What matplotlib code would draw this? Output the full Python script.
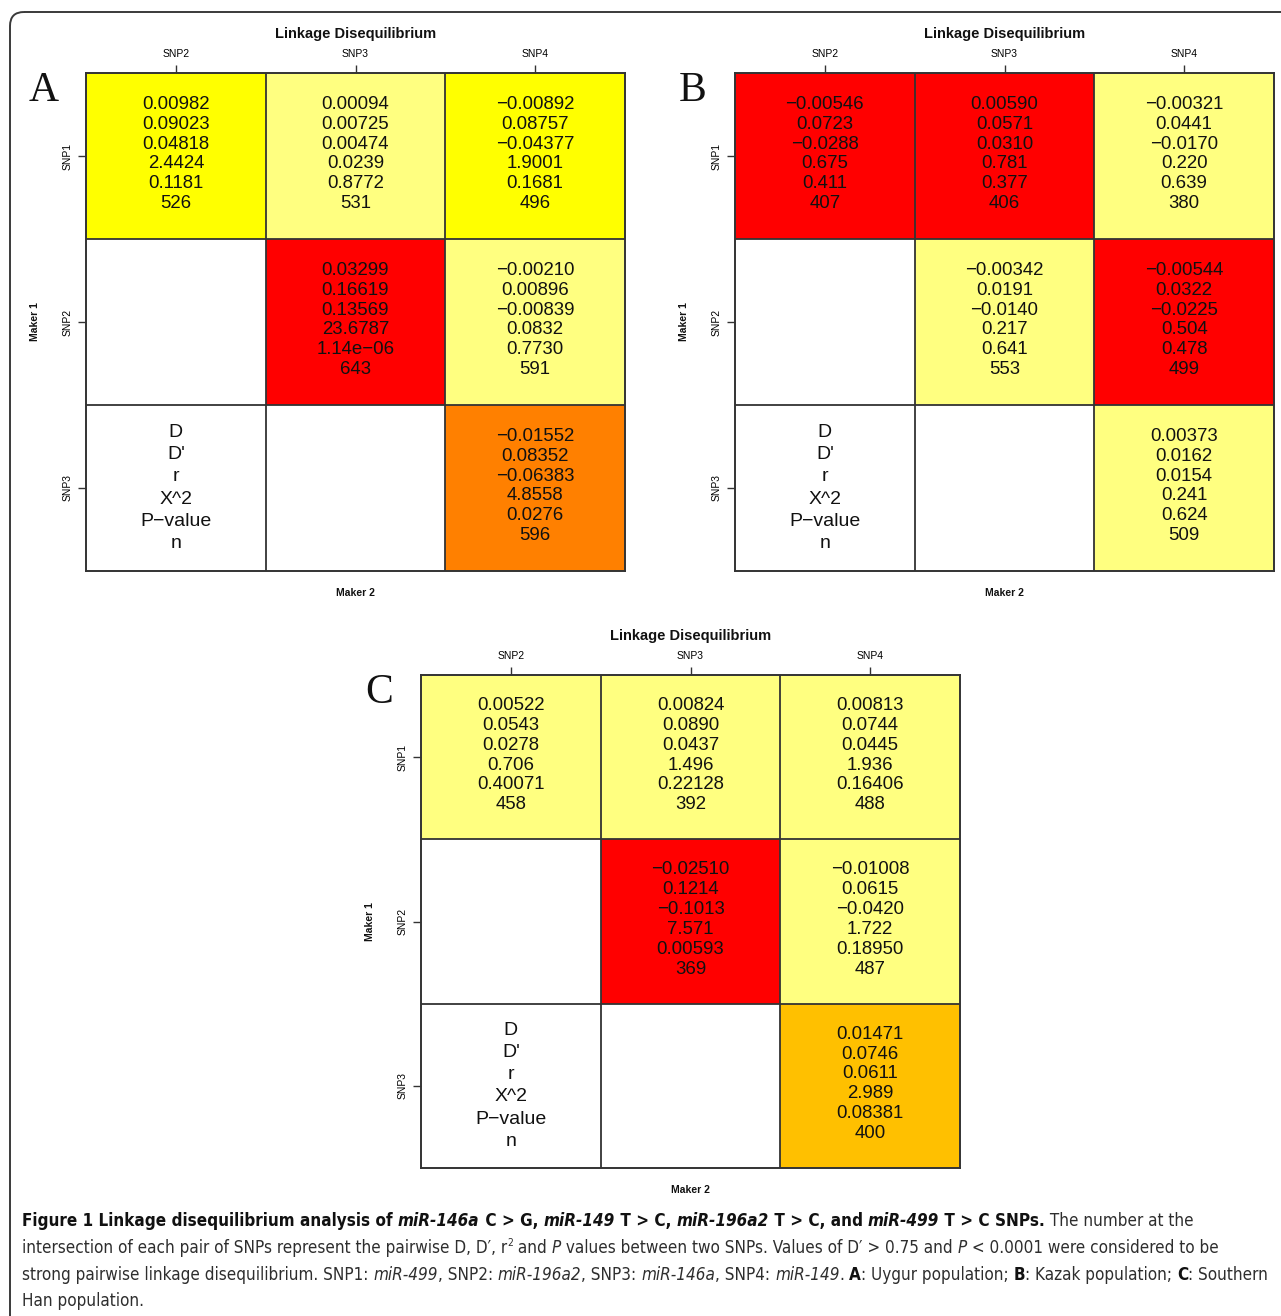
import numpy as np
import matplotlib
matplotlib.use("Agg")
import matplotlib.pyplot as plt
from matplotlib import font_manager as fm
from matplotlib.colors import ListedColormap, BoundaryNorm
from matplotlib.patches import FancyBboxPatch

# pixel size of the whole figure
W, H = 1281, 1316

# caption font: a narrow sans if the machine has one
narrow = [f for f in fm.fontManager.ttflist
          if ('Narrow' in f.name or 'Condensed' in f.name
              or f.stretch in ('condensed', 'semi-condensed'))
          and 'Serif' not in f.name and 'Mono' not in f.name]
cap_font = narrow[0].name if narrow else 'Liberation Sans'
cap_stretch = narrow[0].stretch if narrow else 'normal'
num_font = 'Liberation Sans'

# cell order: SNP1-SNP2, SNP1-SNP3, SNP1-SNP4, SNP2-SNP3, SNP2-SNP4, SNP3-SNP4
pairs = [(0, 0), (0, 1), (0, 2), (1, 1), (1, 2), (2, 2)]
col_labels = ['SNP2', 'SNP3', 'SNP4']
row_labels = ['SNP1', 'SNP2', 'SNP3']
key_labels = ['D', "D'", 'r', 'X^2', 'P\u2212value', 'n']

# A: Uygur
A_D = ['0.00982', '0.00094', '\u22120.00892', '0.03299', '\u22120.00210', '\u22120.01552']
A_Dp = ['0.09023', '0.00725', '0.08757', '0.16619', '0.00896', '0.08352']
A_r = ['0.04818', '0.00474', '\u22120.04377', '0.13569', '\u22120.00839', '\u22120.06383']
A_X2 = ['2.4424', '0.0239', '1.9001', '23.6787', '0.0832', '4.8558']
A_P = ['0.1181', '0.8772', '0.1681', '1.14e\u221206', '0.7730', '0.0276']
A_n = ['526', '531', '496', '643', '591', '596']
A_level = [1, 0, 1, 2, 0, 3]

# B: Kazak
B_D = ['\u22120.00546', '0.00590', '\u22120.00321', '\u22120.00342', '\u22120.00544', '0.00373']
B_Dp = ['0.0723', '0.0571', '0.0441', '0.0191', '0.0322', '0.0162']
B_r = ['\u22120.0288', '0.0310', '\u22120.0170', '\u22120.0140', '\u22120.0225', '0.0154']
B_X2 = ['0.675', '0.781', '0.220', '0.217', '0.504', '0.241']
B_P = ['0.411', '0.377', '0.639', '0.641', '0.478', '0.624']
B_n = ['407', '406', '380', '553', '499', '509']
B_level = [2, 2, 0, 0, 2, 0]

# C: Southern Han
C_D = ['0.00522', '0.00824', '0.00813', '\u22120.02510', '\u22120.01008', '0.01471']
C_Dp = ['0.0543', '0.0890', '0.0744', '0.1214', '0.0615', '0.0746']
C_r = ['0.0278', '0.0437', '0.0445', '\u22120.1013', '\u22120.0420', '0.0611']
C_X2 = ['0.706', '1.496', '1.936', '7.571', '1.722', '2.989']
C_P = ['0.40071', '0.22128', '0.16406', '0.00593', '0.18950', '0.08381']
C_n = ['458', '392', '488', '369', '487', '400']
C_level = [0, 0, 0, 2, 0, 4]

level_colors = ['#ffff80', '#ffff00', '#ff0000', '#ff8000', '#ffc000']
cmap = ListedColormap(level_colors)
norm = BoundaryNorm(np.arange(-0.5, len(level_colors)), cmap.N)

fig = plt.figure(figsize=(W / 100, H / 100), dpi=100)
ax0 = fig.add_axes([0, 0, 1, 1])
ax0.set_xlim(0, W)
ax0.set_ylim(H, 0)
ax0.axis('off')

frame = FancyBboxPatch((10, 12), W + 40, H + 40, boxstyle='round,pad=0,rounding_size=14',
                       fc='none', ec='#3a3a3a', lw=1.4)
ax0.add_patch(frame)


def draw_panel(l, t, r, b, letter, D, Dp, rr, X2, P, n, level):
    ax = fig.add_axes([l / W, 1 - b / H, (r - l) / W, (b - t) / H])
    grid = np.ma.masked_all((3, 3))
    for k, (i, j) in enumerate(pairs):
        grid[i, j] = level[k]
    ax.pcolormesh(np.arange(4), np.arange(4), grid, cmap=cmap, norm=norm)
    for k in (1, 2):
        ax.axvline(k, color='#333333', lw=1.3)
        ax.axhline(k, color='#333333', lw=1.3)
    for k, (i, j) in enumerate(pairs):
        txt = '\n'.join([D[k], Dp[k], rr[k], X2[k], P[k], n[k]])
        ax.text(j + 0.5, i + 0.5 - 0.012, txt, ha='center', va='center', fontsize=13.4,
                family=num_font, color='#111111', linespacing=1.22)
    ax.text(0.5, 2.5, '\n'.join(key_labels), ha='center', va='center', fontsize=14,
            family=num_font, color='#111111', linespacing=1.4)
    ax.set_xlim(0, 3)
    ax.set_ylim(3, 0)
    ax.xaxis.tick_top()
    ax.set_xticks([0.5, 1.5, 2.5], col_labels, fontsize=7.5, family=num_font)
    ax.set_yticks([0.5, 1.5, 2.5], row_labels, fontsize=7.5, family=num_font,
                  rotation=90, va='center')
    ax.tick_params(length=6, width=1, color='#333333', pad=4)
    for s in ax.spines.values():
        s.set_color('#333333')
        s.set_linewidth(1.4)
    cx = (l + r) / 2
    ax0.text(cx, t - 39, 'Linkage Disequilibrium', ha='center', va='center', fontsize=10.5,
             family=num_font, weight='bold', color='#111111')
    ax0.text(cx, b + 22, 'Maker 2', ha='center', va='center', fontsize=7.5,
             family=num_font, weight='bold', color='#111111')
    ax0.text(l - 51, (t + b) / 2, 'Maker 1', ha='center', va='center', fontsize=7.5,
             family=num_font, weight='bold', color='#111111', rotation=90)
    ax0.text(l - 42, t + 18, letter, ha='center', va='center', fontsize=30,
             family='Liberation Serif', color='#111111')
    return ax


draw_panel(86, 73, 625, 571, 'A', A_D, A_Dp, A_r, A_X2, A_P, A_n, A_level)
draw_panel(735, 73, 1274, 571, 'B', B_D, B_Dp, B_r, B_X2, B_P, B_n, B_level)
draw_panel(421, 675, 960, 1168, 'C', C_D, C_Dp, C_r, C_X2, C_P, C_n, C_level)

# caption, written as runs of differently styled text
line1 = [('Figure 1 Linkage disequilibrium analysis of ', 'b'), ('miR-146a', 'bi'),
         (' C > G, ', 'b'), ('miR-149', 'bi'), (' T > C, ', 'b'), ('miR-196a2', 'bi'),
         (' T > C, and ', 'b'), ('miR-499', 'bi'), (' T > C SNPs.', 'b'),
         (' The number at the', 'r')]
line2 = [('intersection of each pair of SNPs represent the pairwise D, D\u2032, r', 'r'),
         ('2', 'sup'), (' and ', 'r'), ('P', 'i'),
         (' values between two SNPs. Values of D\u2032 > 0.75 and ', 'r'), ('P', 'i'),
         (' < 0.0001 were considered to be', 'r')]
line3 = [('strong pairwise linkage disequilibrium. SNP1: ', 'r'), ('miR-499', 'i'),
         (', SNP2: ', 'r'), ('miR-196a2', 'i'), (', SNP3: ', 'r'), ('miR-146a', 'i'),
         (', SNP4: ', 'r'), ('miR-149', 'i'), ('. ', 'r'), ('A', 'b'),
         (': Uygur population; ', 'r'), ('B', 'b'), (': Kazak population; ', 'r'),
         ('C', 'b'), (': Southern', 'r')]
line4 = [('Han population.', 'r')]

rend = fig.canvas.get_renderer()


def run_prop(st, size):
    return fm.FontProperties(family=[cap_font, 'DejaVu Sans'], stretch=cap_stretch,
                             weight='bold' if 'b' in st else 'normal',
                             style='italic' if 'i' in st else 'normal',
                             size=size * 0.6 if st == 'sup' else size)


def run_width(s, st, size):
    prop = run_prop(st, size)
    w1 = rend.get_text_width_height_descent('|' + s + '|', prop, ismath=False)[0]
    w0 = rend.get_text_width_height_descent('||', prop, ismath=False)[0]
    return w1 - w0


def put_runs(x, y, runs, size):
    for s, st in runs:
        yy = y - size * 0.55 if st == 'sup' else y
        ax0.text(x, yy, s, ha='left', va='baseline', fontproperties=run_prop(st, size),
                 color='#111111' if 'b' in st else '#2e2e2e')
        x += run_width(s, st, size)
    return x


base = 10.0
w2 = sum(run_width(s, st, base) for s, st in line2)
w3 = sum(run_width(s, st, base) for s, st in line3)
cap_size = min(base * 1236 / w2, base * 1248 / w3)
for y, ln in zip([1226, 1253, 1280, 1306], [line1, line2, line3, line4]):
    put_runs(22, y, ln, cap_size)

fig.savefig('out.png', dpi=100)
